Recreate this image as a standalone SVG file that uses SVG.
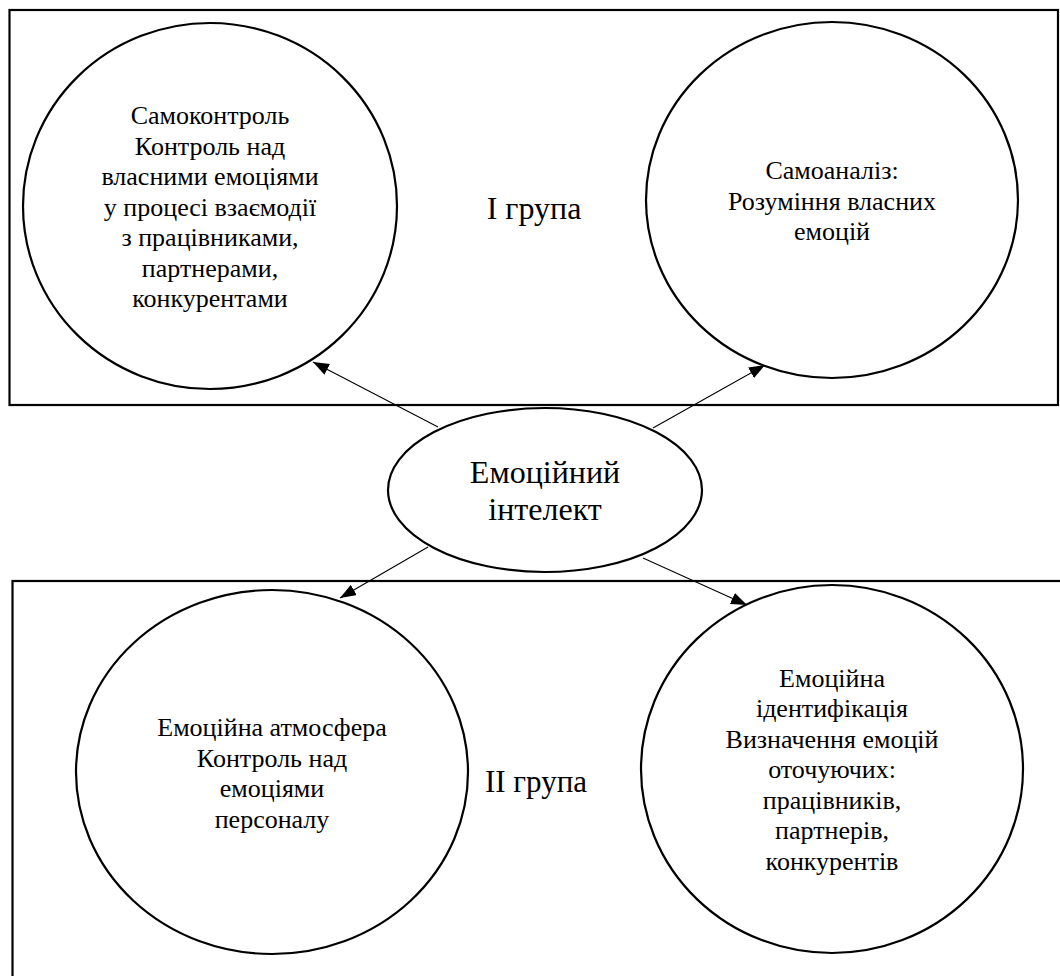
<svg xmlns="http://www.w3.org/2000/svg" width="1060" height="976" viewBox="0 0 1060 976">
<defs>
<style>
.frame{fill:none;stroke:#000;stroke-width:2.2}
.node{fill:#fff;stroke:#000;stroke-width:2.2}
.conn{stroke:#000;stroke-width:1.1;fill:none}
.t{font-family:"Liberation Serif","Times New Roman",serif;font-size:26px;fill:#000;text-anchor:middle}
.big{font-family:"Liberation Serif","Times New Roman",serif;font-size:32px;fill:#000;text-anchor:middle}
</style>
<marker id="ah" viewBox="0 0 16 12" refX="16" refY="6" markerWidth="16" markerHeight="12" markerUnits="userSpaceOnUse" orient="auto">
<path d="M0,0 L16,6 L0,12 z" fill="#000"/>
</marker>
</defs>
<rect width="1060" height="976" fill="#fff"/>
<g id="group1">
<rect class="frame" x="9.5" y="10" width="1048.5" height="395"/>
<text class="big" x="534" y="219">І група</text>
</g>
<g id="group2">
<rect class="frame" x="12.5" y="581" width="1060" height="420"/>
<text class="big" x="536" y="792" style="font-size:31px">ІІ група</text>
</g>
<g id="connectors">
<line class="conn" x1="438" y1="427" x2="313" y2="362" marker-end="url(#ah)"/>
<line class="conn" x1="653" y1="428" x2="765" y2="365" marker-end="url(#ah)"/>
<line class="conn" x1="428" y1="547" x2="340" y2="598" marker-end="url(#ah)"/>
<line class="conn" x1="643" y1="558" x2="747" y2="605" marker-end="url(#ah)"/>
</g>
<g id="self-control">
<ellipse class="node" cx="210" cy="206" rx="187" ry="183"/>
<text class="t" x="210" y="124">Самоконтроль</text>
<text class="t" x="210" y="154.5">Контроль над</text>
<text class="t" x="210" y="185">власними емоціями</text>
<text class="t" x="210" y="215.5">у процесі взаємодії</text>
<text class="t" x="210" y="246">з працівниками,</text>
<text class="t" x="210" y="276.5">партнерами,</text>
<text class="t" x="210" y="307">конкурентами</text>
</g>
<g id="self-analysis">
<ellipse class="node" cx="832" cy="200" rx="186" ry="178"/>
<text class="t" x="832" y="179">Самоаналіз:</text>
<text class="t" x="832" y="209.5">Розуміння власних</text>
<text class="t" x="832" y="240">емоцій</text>
</g>
<g id="emotional-intelligence">
<ellipse class="node" cx="545" cy="490" rx="157" ry="82"/>
<text class="big" x="545" y="483">Емоційний</text>
<text class="big" x="545" y="520">інтелект</text>
</g>
<g id="emotional-atmosphere">
<ellipse class="node" cx="272" cy="772" rx="196" ry="182"/>
<text class="t" x="272" y="736">Емоційна атмосфера</text>
<text class="t" x="272" y="766.5">Контроль над</text>
<text class="t" x="272" y="797">емоціями</text>
<text class="t" x="272" y="827.5">персоналу</text>
</g>
<g id="emotional-identification">
<ellipse class="node" cx="832" cy="769" rx="191" ry="184"/>
<text class="t" x="832" y="686.5">Емоційна</text>
<text class="t" x="832" y="717">ідентифікація</text>
<text class="t" x="832" y="747.5">Визначення емоцій</text>
<text class="t" x="832" y="778">оточуючих:</text>
<text class="t" x="832" y="808.5">працівників,</text>
<text class="t" x="832" y="839">партнерів,</text>
<text class="t" x="832" y="869.5">конкурентів</text>
</g>
</svg>
